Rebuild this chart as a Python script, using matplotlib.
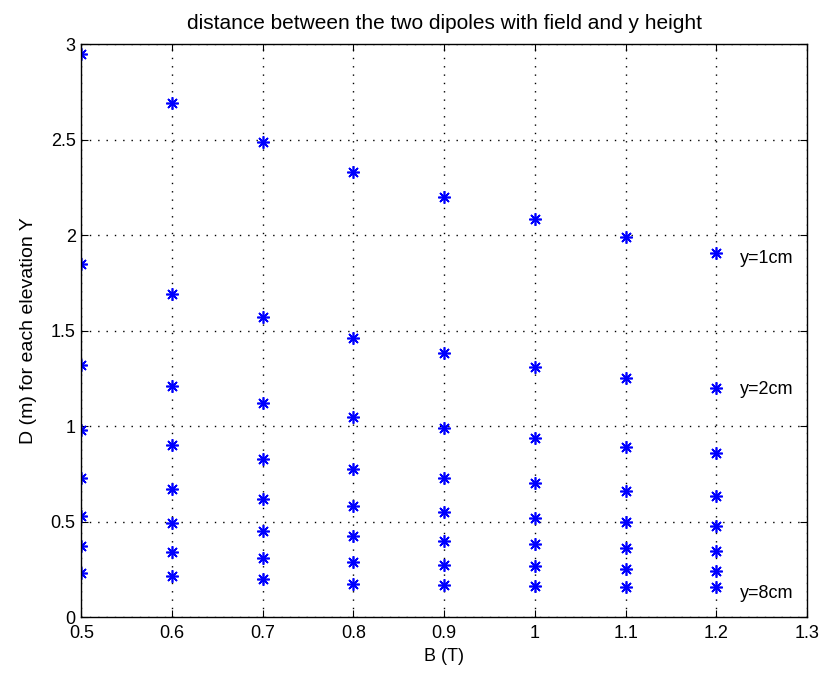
import matplotlib
matplotlib.use("Agg")
import matplotlib.pyplot as plt
import numpy as np

# field B (T)
B = [0.5, 0.6, 0.7, 0.8, 0.9, 1.0, 1.1, 1.2]

# distance D (m) for each elevation y = 1..8 cm, one list per B value
D = {
    0.5: [2.95, 1.85, 1.32, 0.98, 0.73, 0.53, 0.37, 0.23],
    0.6: [2.69, 1.69, 1.21, 0.90, 0.67, 0.49, 0.34, 0.215],
    0.7: [2.49, 1.57, 1.12, 0.83, 0.62, 0.45, 0.31, 0.20],
    0.8: [2.33, 1.46, 1.05, 0.775, 0.58, 0.425, 0.29, 0.175],
    0.9: [2.20, 1.385, 0.99, 0.73, 0.55, 0.40, 0.27, 0.168],
    1.0: [2.085, 1.31, 0.935, 0.70, 0.52, 0.38, 0.265, 0.164],
    1.1: [1.99, 1.25, 0.89, 0.66, 0.495, 0.363, 0.25, 0.155],
    1.2: [1.905, 1.20, 0.857, 0.635, 0.478, 0.347, 0.241, 0.155],
}

labels = ["y=1cm", "y=2cm", "y=8cm"]
label_y = [1.88, 1.19, 0.125]

plt.rcParams["font.family"] = ["Liberation Sans", "DejaVu Sans"]

fig = plt.figure(figsize=(8.25, 6.79), dpi=100)
ax = fig.add_axes([0.0985, 0.0913, 0.8797, 0.8437])

for b in B:
    ax.plot([b] * len(D[b]), D[b], linestyle="none", marker=(8, 2, 0),
            color="blue", markersize=9, markeredgewidth=1.2)

for t, yv in zip(labels, label_y):
    ax.text(1.226, yv, t, fontsize=13, va="center", ha="left")

ax.set_xlim(0.5, 1.3)
ax.set_ylim(0, 3)
ax.set_xticks(np.arange(0.5, 1.31, 0.1))
ax.set_xticklabels(["0.5", "0.6", "0.7", "0.8", "0.9", "1", "1.1", "1.2", "1.3"])
ax.set_yticks(np.arange(0, 3.01, 0.5))
ax.set_yticklabels(["0", "0.5", "1", "1.5", "2", "2.5", "3"])
ax.grid(True, linestyle=(0, (1, 5)), color="black", linewidth=1.0)
ax.tick_params(direction="in", top=True, right=True, labelsize=13, length=5)
ax.tick_params(axis="x", pad=6)
ax.tick_params(axis="y", pad=4)
for s in ax.spines.values():
    s.set_linewidth(1.0)

ax.set_xlabel("B (T)", fontsize=13, labelpad=4)
ax.set_ylabel("D (m) for each elevation Y", fontsize=14, labelpad=10)
ax.set_title("distance between the two dipoles with field and y height", fontsize=15, pad=11)

fig.savefig("out.png", dpi=100)
